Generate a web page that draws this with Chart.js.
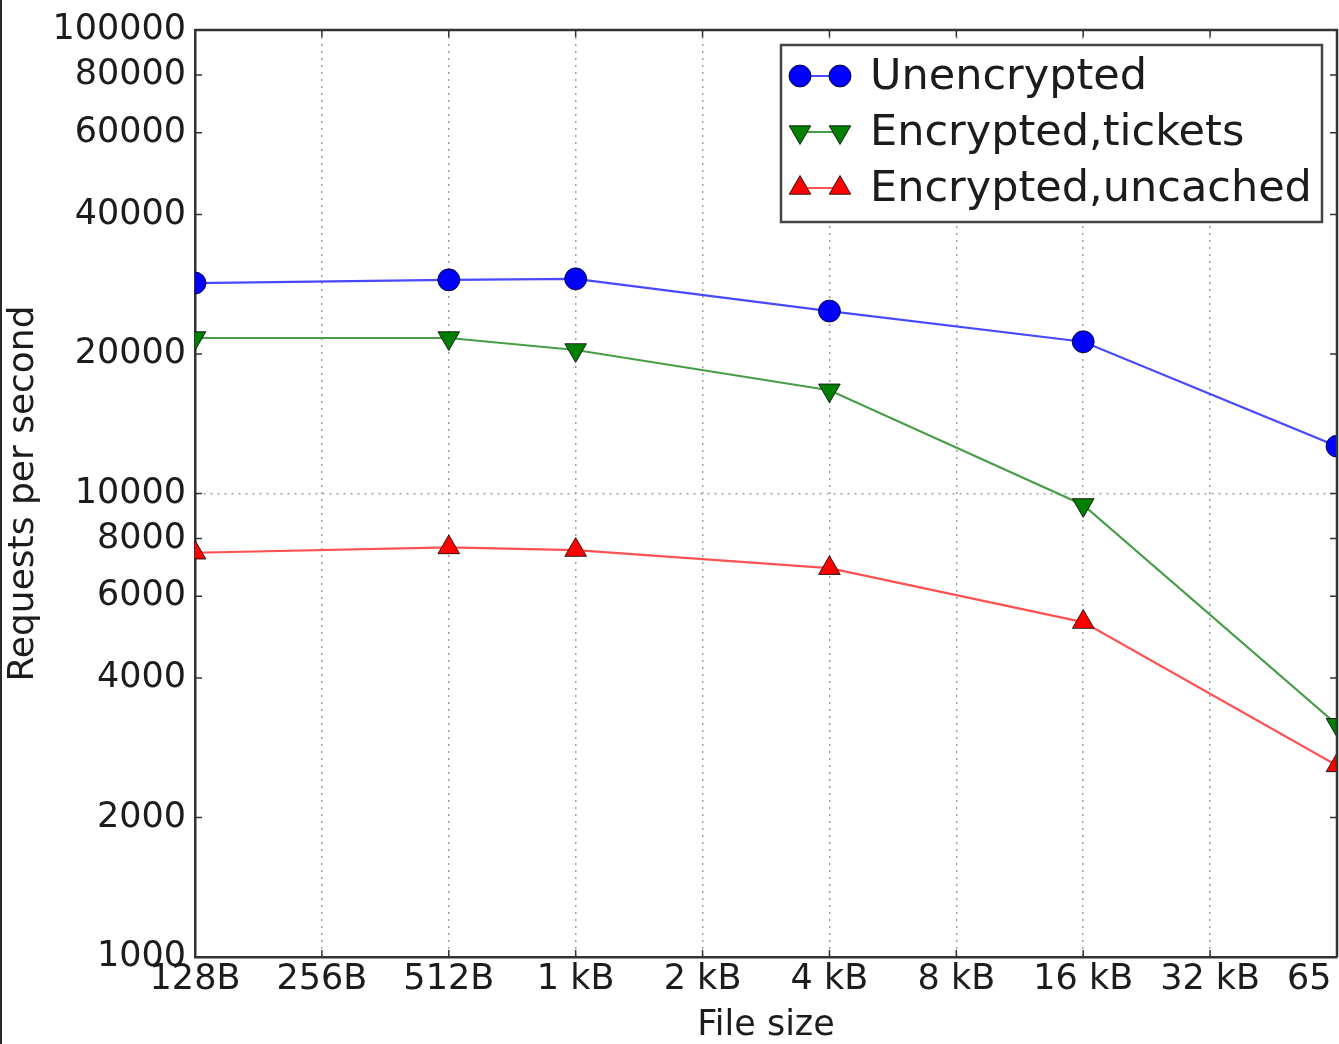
<!DOCTYPE html>
<html>
<head>
<meta charset="utf-8">
<script src="https://cdn.jsdelivr.net/npm/chart.js@4.4.1/dist/chart.umd.min.js"></script>
<style>
	html, body { margin: 0; padding: 0; background: #fff; overflow: hidden; }
	#wrap { position: relative; width: 1400px; height: 1044px; }
	#edge { position: fixed; left: 0; top: 0; width: 2px; height: 1044px; background: #2a2a2a; z-index: 2; }
</style>
</head>
<body>
<div id="edge"></div>
<div id="wrap"><canvas id="rpsChart"></canvas></div>
<script>
// file sizes on the x axis (log2 steps), only some were measured
var fileSizes = ['128B', '256B', '512B', '1 kB', '2 kB', '4 kB', '8 kB', '16 kB', '32 kB', '65 kB'];
var unencrypted = [28450, null, 28900, 29050, null, 24750, null, 21250, null, 12650];
var encTickets = [21650, null, 21650, 20400, null, 16700, null, 9450, null, 3170];
var encUncached = [7450, null, 7650, 7550, null, 6900, null, 5280, null, 2590];
var yTicks = [1000, 2000, 4000, 6000, 8000, 10000, 20000, 40000, 60000, 80000, 100000];

var FONT = '"DejaVu Sans", sans-serif';
var TEXT = '#1c1c1c';

// axes frame (top / right) and matplotlib-style inward ticks
var frameTicks = {
	id: 'frameTicks',
	afterDraw: function(chart) {
		var ctx = chart.ctx, a = chart.chartArea;
		var xs = chart.scales.x, ys = chart.scales.y;
		ctx.save();
		ctx.strokeStyle = '#333';
		ctx.lineWidth = 1.5;
		ctx.beginPath();
		yTicks.forEach(function(v) {
			var py = ys.getPixelForValue(v);
			ctx.moveTo(a.left, py); ctx.lineTo(a.left + 7, py);
			ctx.moveTo(a.right, py); ctx.lineTo(a.right - 7, py);
		});
		fileSizes.forEach(function(l, i) {
			var px = xs.getPixelForTick(i);
			ctx.moveTo(px, a.bottom); ctx.lineTo(px, a.bottom - 7);
			ctx.moveTo(px, a.top); ctx.lineTo(px, a.top + 7);
		});
		ctx.stroke();
		ctx.lineWidth = 2.5;
		ctx.beginPath();
		ctx.moveTo(a.left, a.top); ctx.lineTo(a.right, a.top); ctx.lineTo(a.right, a.bottom);
		ctx.stroke();
		ctx.restore();
	}
};

// legend box inside the upper right of the plot
var legendBox = {
	id: 'legendBox',
	afterDraw: function(chart) {
		var ctx = chart.ctx, a = chart.chartArea;
		var w = 541, h = 177;
		var x0 = a.right - 15 - w, y0 = a.top + 15;
		ctx.save();
		ctx.fillStyle = '#fff';
		ctx.fillRect(x0, y0, w, h);
		ctx.strokeStyle = '#444';
		ctx.lineWidth = 2.5;
		ctx.strokeRect(x0, y0, w, h);
		chart.data.datasets.forEach(function(ds, i) {
			var cy = y0 + 31 + i * 56;
			ctx.strokeStyle = ds.borderColor;
			ctx.lineWidth = 2;
			ctx.beginPath();
			ctx.moveTo(x0 + 19, cy); ctx.lineTo(x0 + 59, cy);
			ctx.stroke();
			ctx.fillStyle = ds.pointBackgroundColor;
			ctx.strokeStyle = '#000';
			ctx.lineWidth = 0.8;
			var opts = { pointStyle: ds.pointStyle, radius: ds.pointRadius, rotation: ds.pointRotation || 0, borderWidth: 0.8 };
			Chart.helpers.drawPoint(ctx, opts, x0 + 19, cy);
			Chart.helpers.drawPoint(ctx, opts, x0 + 59, cy);
			ctx.fillStyle = TEXT;
			ctx.font = '43px ' + FONT;
			ctx.textBaseline = 'middle';
			ctx.fillText(ds.label, x0 + 89, cy + 2);
		});
		ctx.restore();
	}
};

var ctx = document.getElementById('rpsChart');
var rpsChart = new Chart(ctx, {
	type: 'line',
	data: {
		labels: fileSizes,
		datasets: [{
			label: 'Unencrypted',
			data: unencrypted,
			borderColor: 'rgba(40, 40, 255, 0.85)',
			borderWidth: 2.2,
			pointStyle: 'circle',
			pointRadius: 11,
			pointBackgroundColor: '#0000ff',
			pointBorderColor: '#000',
			pointBorderWidth: 0.8,
			clip: 0
		}, {
			label: 'Encrypted,tickets',
			data: encTickets,
			borderColor: 'rgba(40, 140, 40, 0.85)',
			borderWidth: 2.2,
			pointStyle: 'triangle',
			pointRotation: 180,
			pointRadius: 12.5,
			pointBackgroundColor: '#007f00',
			pointBorderColor: '#000',
			pointBorderWidth: 0.8,
			clip: 0
		}, {
			label: 'Encrypted,uncached',
			data: encUncached,
			borderColor: 'rgba(255, 50, 50, 0.85)',
			borderWidth: 2.2,
			pointStyle: 'triangle',
			pointRadius: 12.5,
			pointBackgroundColor: '#ff0000',
			pointBorderColor: '#000',
			pointBorderWidth: 0.8,
			clip: 0
		}]
	},
	options: {
		responsive: true,
		maintainAspectRatio: false,
		animation: false,
		spanGaps: true,
		layout: { autoPadding: false, padding: { top: 30, right: 63, bottom: 0, left: 0 } },
		plugins: {
			legend: { display: false },
			tooltip: { enabled: false }
		},
		scales: {
			x: {
				type: 'category',
				offset: false,
				afterFit: function(s) { s.height = 87; },
				grid: {
					color: '#a0a0a0',
					lineWidth: 1.5,
					drawTicks: false
				},
				border: { display: true, color: '#333', width: 2.5, dash: [2, 5] },
				ticks: {
					color: TEXT,
					font: { family: FONT, size: 35 },
					padding: 2,
					maxRotation: 0,
					autoSkip: false
				},
				title: {
					display: true,
					text: 'File size',
					color: TEXT,
					font: { family: FONT, size: 35 },
					padding: { top: 0, bottom: -3 }
				}
			},
			y: {
				type: 'logarithmic',
				min: 1000,
				max: 100000,
				afterFit: function(s) { s.width = 195; },
				afterBuildTicks: function(s) {
					s.ticks = yTicks.map(function(v) { return { value: v }; });
				},
				grid: {
					color: function(c) { return (c.tick && c.tick.value === 10000) ? '#a0a0a0' : 'rgba(0,0,0,0)'; },
					lineWidth: 1.5,
					drawTicks: false
				},
				border: { display: true, color: '#333', width: 2.5, dash: [2, 5] },
				ticks: {
					color: TEXT,
					font: { family: FONT, size: 35 },
					padding: 9,
					autoSkip: false,
					callback: function(v) { return String(v); }
				},
				title: {
					display: true,
					text: 'Requests per second',
					color: TEXT,
					font: { family: FONT, size: 36 },
					padding: { top: 2, bottom: 0 }
				}
			}
		}
	},
	plugins: [frameTicks, legendBox]
});
</script>
</body>
</html>
